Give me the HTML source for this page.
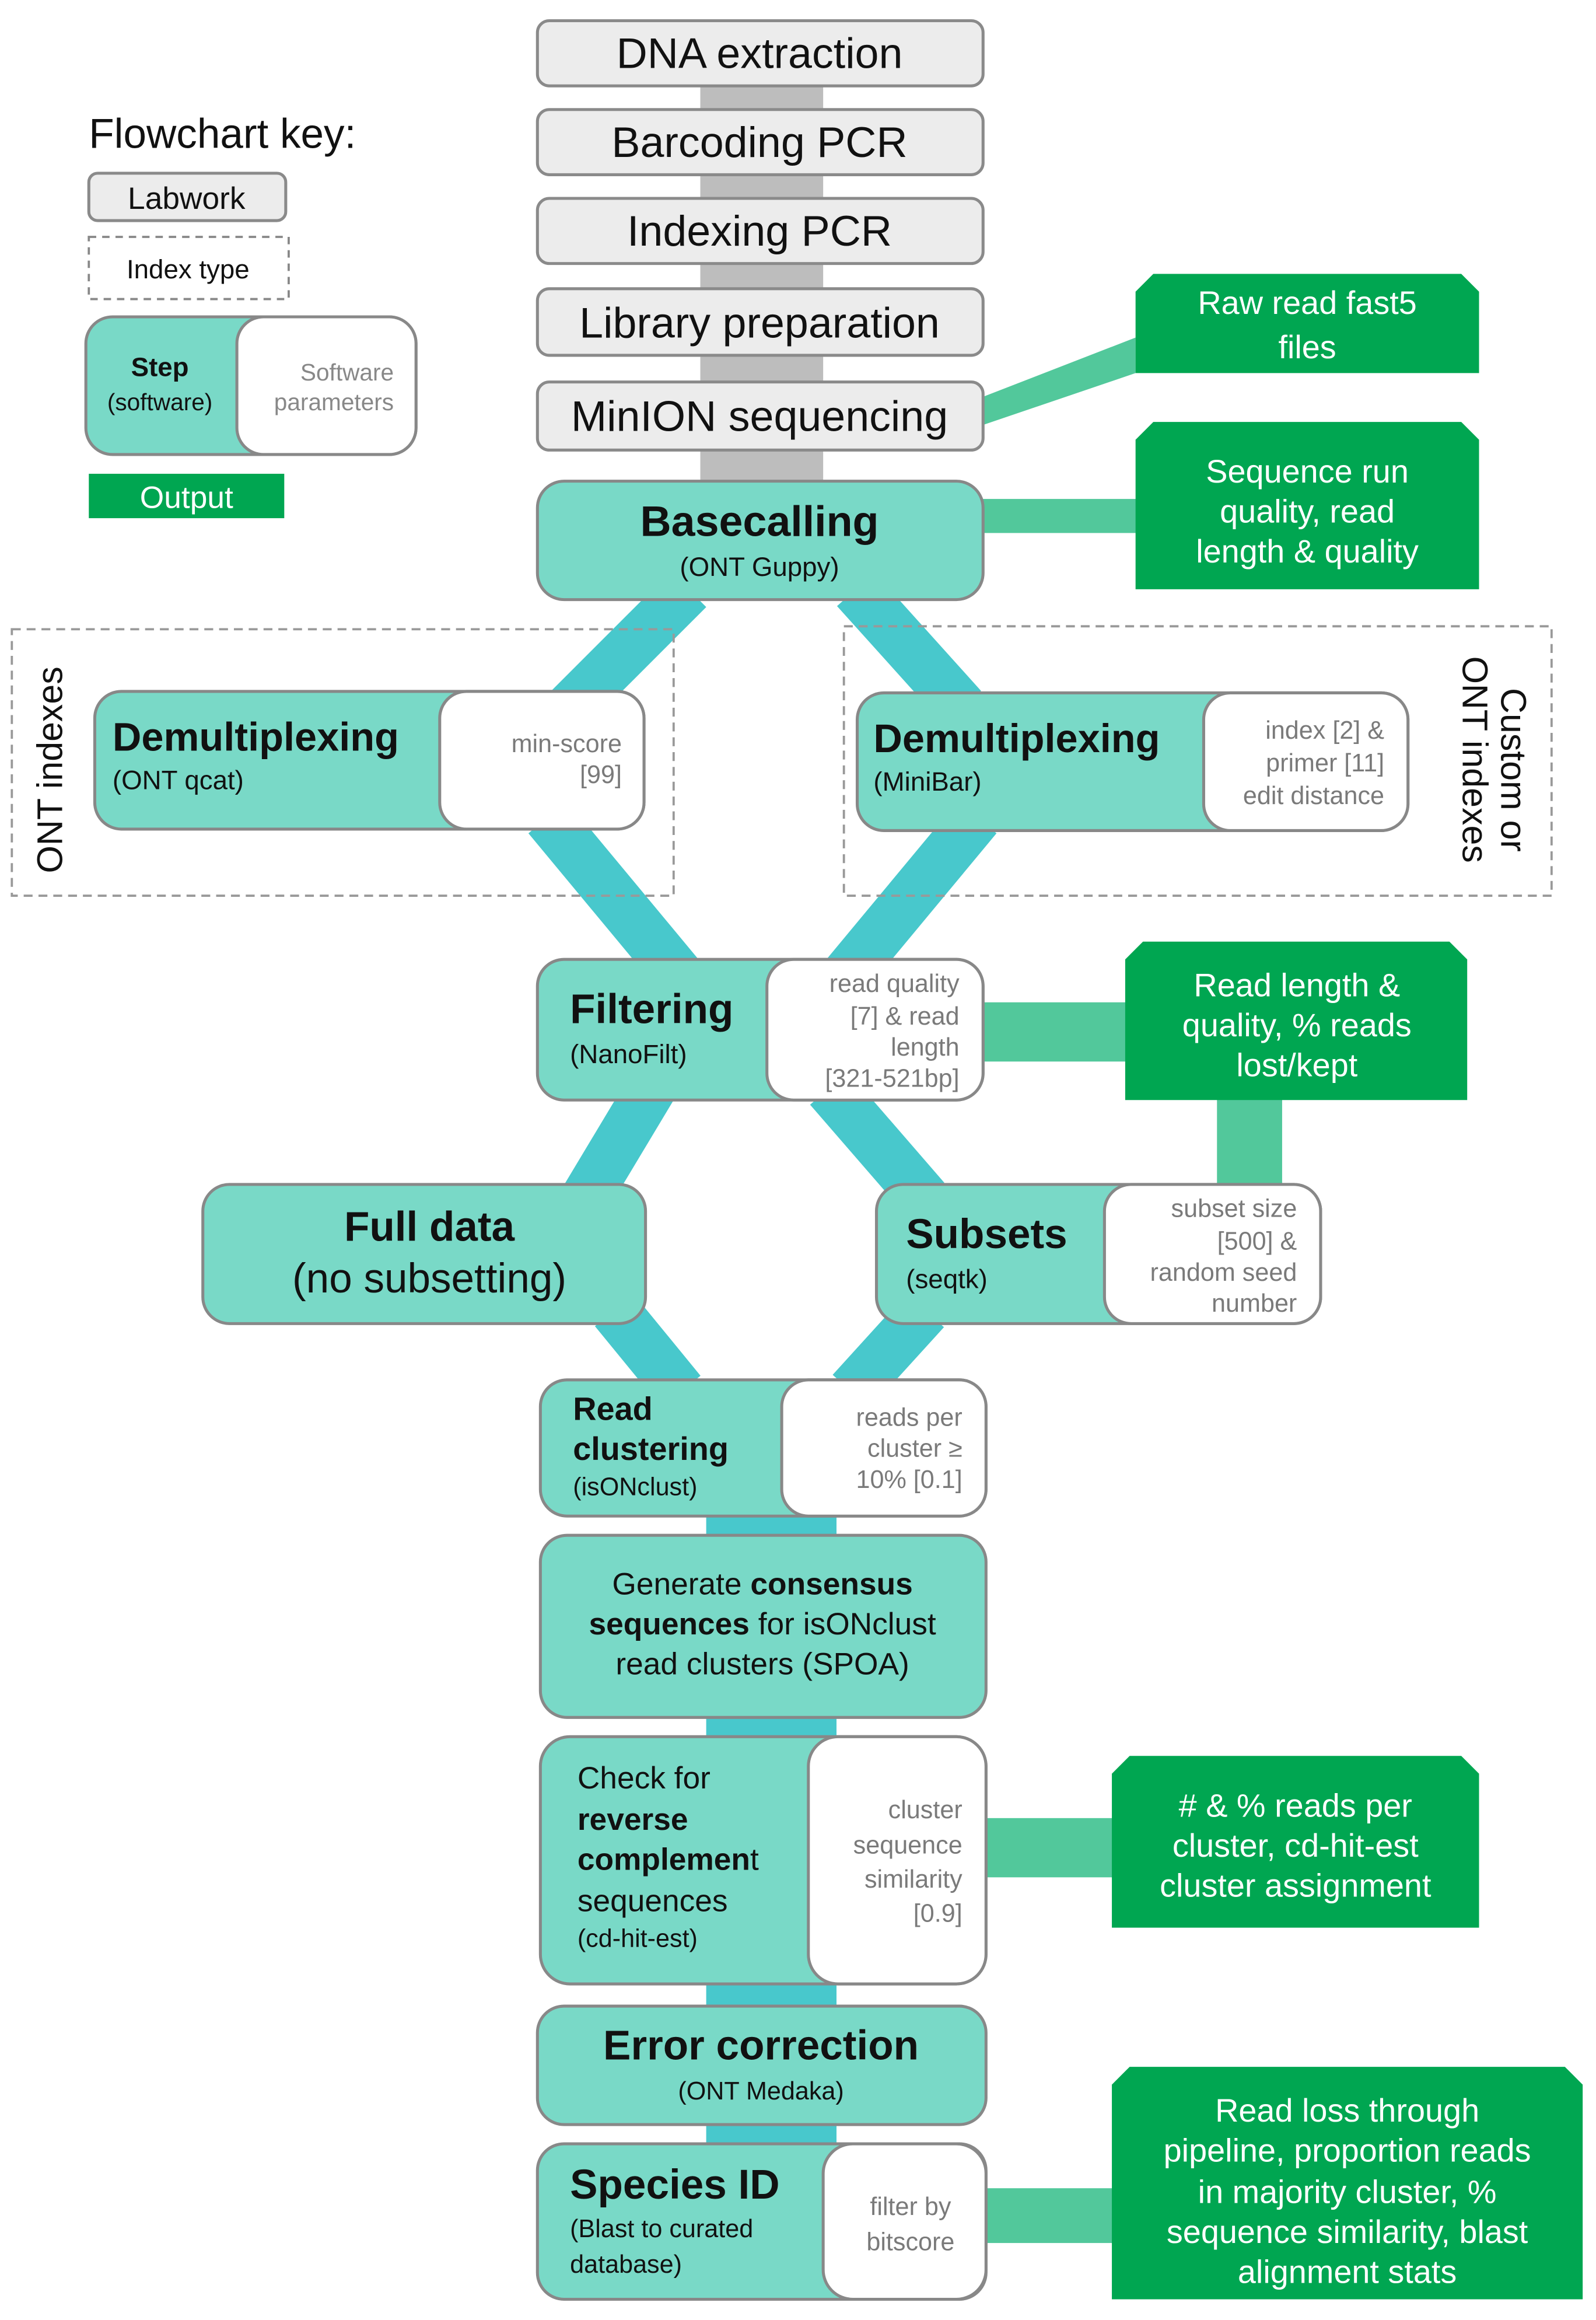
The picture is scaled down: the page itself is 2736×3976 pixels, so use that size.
<!DOCTYPE html>
<html><head><meta charset="utf-8"><style>
html,body{margin:0;padding:0;background:#fff}
svg{display:block}
text{font-family:"Liberation Sans",sans-serif}
.b{font-weight:bold;fill:#111}
.p{fill:#7a7a7a;font-size:17px}
.w{fill:#fff}
</style></head><body>
<svg width="2736" height="3976" viewBox="0 0 1078 1567" preserveAspectRatio="none" xmlns="http://www.w3.org/2000/svg">
<rect width="1078" height="1567" fill="#fff"/>
<rect x="473" y="40" width="83" height="290" fill="#bdbdbd"/>
<g stroke="#48c8cc" stroke-width="34" fill="none">
<line x1="465" y1="398" x2="385" y2="478"/>
<line x1="578" y1="398" x2="650" y2="478"/>
<line x1="370" y1="552" x2="458" y2="658"/>
<line x1="660" y1="552" x2="572" y2="658"/>
<line x1="440" y1="735" x2="395" y2="810"/>
<line x1="560" y1="735" x2="625" y2="810"/>
<line x1="415" y1="885" x2="460" y2="940"/>
<line x1="625" y1="885" x2="575" y2="940"/>
</g>
<rect x="477" y="1020" width="88" height="430" fill="#48c8cc"/>
<g fill="#52c89b">
<polygon points="664,268 767,228 767,252 664,287"/>
<rect x="664" y="337" width="105" height="23"/>
<rect x="664" y="677" width="98" height="40"/>
<rect x="822" y="740" width="44" height="62"/>
<rect x="666" y="1228" width="87" height="40"/>
<rect x="666" y="1478" width="87" height="37"/>
</g>
<rect x="8" y="425" width="447" height="180" fill="none" stroke="#999" stroke-width="1.5" stroke-dasharray="6,4"/>
<rect x="570" y="423" width="478" height="182" fill="none" stroke="#999" stroke-width="1.5" stroke-dasharray="6,4"/>
<text transform="translate(42,520) rotate(-90)" text-anchor="middle" font-size="24" fill="#111">ONT indexes</text>
<text transform="translate(1014,520) rotate(90)" text-anchor="middle" font-size="24" fill="#111">Custom or</text>
<text transform="translate(988,513) rotate(90)" text-anchor="middle" font-size="24" fill="#111">ONT indexes</text>
<g fill="#ececec" stroke="#8a8a8a" stroke-width="2">
<rect x="363" y="14" width="301" height="44" rx="8"/>
<rect x="363" y="74" width="301" height="44" rx="8"/>
<rect x="363" y="134" width="301" height="44" rx="8"/>
<rect x="363" y="195" width="301" height="45" rx="8"/>
<rect x="363" y="258" width="301" height="46" rx="8"/>
</g>
<g font-size="29" fill="#111" text-anchor="middle">
<text x="513" y="46">DNA extraction</text>
<text x="513" y="106">Barcoding PCR</text>
<text x="513" y="166">Indexing PCR</text>
<text x="513" y="228">Library preparation</text>
<text x="513" y="291">MinION sequencing</text>
</g>
<text x="60" y="100" font-size="28" fill="#111">Flowchart key:</text>
<rect x="60" y="117" width="133" height="32" rx="6" fill="#ececec" stroke="#8a8a8a" stroke-width="2"/>
<text x="126" y="141" font-size="21" text-anchor="middle" fill="#111">Labwork</text>
<rect x="60" y="160" width="135" height="42" fill="none" stroke="#888" stroke-width="1.5" stroke-dasharray="5,4"/>
<text x="127" y="188" font-size="18" text-anchor="middle" fill="#111">Index type</text>
<rect x="58" y="214" width="223" height="93" rx="18" fill="#79d9c7" stroke="#888" stroke-width="2"/>
<rect x="160" y="214" width="121" height="93" rx="18" fill="#fff" stroke="#888" stroke-width="2"/>
<text x="108" y="254" font-size="18" text-anchor="middle" class="b">Step</text>
<text x="108" y="277" font-size="16" text-anchor="middle" fill="#111">(software)</text>
<text x="266" y="257" font-size="16" text-anchor="end" fill="#888">Software</text>
<text x="266" y="277" font-size="16" text-anchor="end" fill="#888">parameters</text>
<rect x="60" y="320" width="132" height="30" fill="#00a651"/>
<text x="126" y="343" font-size="21" text-anchor="middle" class="w">Output</text>
<g stroke="#888" stroke-width="2">
<rect x="363" y="325" width="301" height="80" rx="18" fill="#79d9c7"/>
<rect x="64" y="467" width="371" height="93" rx="18" fill="#79d9c7"/>
<rect x="297" y="467" width="138" height="93" rx="18" fill="#fff"/>
<rect x="579" y="468" width="372" height="93" rx="18" fill="#79d9c7"/>
<rect x="813" y="468" width="138" height="93" rx="18" fill="#fff"/>
<rect x="363" y="648" width="301" height="95" rx="18" fill="#79d9c7"/>
<rect x="518" y="648" width="146" height="95" rx="18" fill="#fff"/>
<rect x="137" y="800" width="299" height="94" rx="18" fill="#79d9c7"/>
<rect x="592" y="800" width="300" height="94" rx="18" fill="#79d9c7"/>
<rect x="746" y="800" width="146" height="94" rx="18" fill="#fff"/>
<rect x="365" y="932" width="301" height="92" rx="18" fill="#79d9c7"/>
<rect x="528" y="932" width="138" height="92" rx="18" fill="#fff"/>
<rect x="365" y="1037" width="301" height="123" rx="18" fill="#79d9c7"/>
<rect x="365" y="1173" width="301" height="167" rx="20" fill="#79d9c7"/>
<rect x="546" y="1173" width="120" height="167" rx="20" fill="#fff"/>
<rect x="363" y="1355" width="303" height="80" rx="18" fill="#79d9c7"/>
<rect x="363" y="1448" width="303" height="105" rx="18" fill="#79d9c7"/>
<rect x="556" y="1448" width="110" height="105" rx="20" fill="#fff"/>
</g>
<text x="513" y="362" font-size="29" text-anchor="middle" class="b">Basecalling</text>
<text x="513" y="389" font-size="18" text-anchor="middle" fill="#111">(ONT Guppy)</text>
<text x="76" y="507" font-size="27" class="b">Demultiplexing</text>
<text x="76" y="533" font-size="18" fill="#111">(ONT qcat)</text>
<text x="420" y="508" class="p" text-anchor="end">min-score</text>
<text x="420" y="529" class="p" text-anchor="end">[99]</text>
<text x="590" y="508" font-size="27" class="b">Demultiplexing</text>
<text x="590" y="534" font-size="18" fill="#111">(MiniBar)</text>
<text x="935" y="499" class="p" text-anchor="end">index [2] &amp;</text>
<text x="935" y="521" class="p" text-anchor="end">primer [11]</text>
<text x="935" y="543" class="p" text-anchor="end">edit distance</text>
<text x="385" y="691" font-size="28" class="b">Filtering</text>
<text x="385" y="718" font-size="18" fill="#111">(NanoFilt)</text>
<g class="p" text-anchor="end">
<text x="648" y="670">read quality</text>
<text x="648" y="692">[7] &amp; read</text>
<text x="648" y="713">length</text>
<text x="648" y="734">[321-521bp]</text>
</g>
<text x="290" y="838" font-size="28" text-anchor="middle" class="b">Full data</text>
<text x="290" y="873" font-size="28" text-anchor="middle" fill="#111">(no subsetting)</text>
<text x="612" y="843" font-size="28" class="b">Subsets</text>
<text x="612" y="870" font-size="18" fill="#111">(seqtk)</text>
<g class="p" text-anchor="end">
<text x="876" y="822">subset size</text>
<text x="876" y="844">[500] &amp;</text>
<text x="876" y="865">random seed</text>
<text x="876" y="886">number</text>
</g>
<text x="387" y="959" font-size="22" class="b">Read</text>
<text x="387" y="986" font-size="22" class="b">clustering</text>
<text x="387" y="1010" font-size="17" fill="#111">(isONclust)</text>
<g class="p" text-anchor="end">
<text x="650" y="963">reads per</text>
<text x="650" y="984">cluster ≥</text>
<text x="650" y="1005">10% [0.1]</text>
</g>
<g font-size="21" text-anchor="middle" fill="#111">
<text x="515" y="1077">Generate <tspan font-weight="bold">consensus</tspan></text>
<text x="515" y="1104"><tspan font-weight="bold">sequences</tspan> for isONclust</text>
<text x="515" y="1131">read clusters (SPOA)</text>
</g>
<g font-size="21" fill="#111">
<text x="390" y="1208">Check for</text>
<text x="390" y="1236" font-weight="bold">reverse</text>
<text x="390" y="1263"><tspan font-weight="bold">complemen</tspan>t</text>
<text x="390" y="1291">sequences</text>
<text x="390" y="1315" font-size="17">(cd-hit-est)</text>
</g>
<g class="p" text-anchor="end" font-size="18">
<text x="650" y="1228">cluster</text>
<text x="650" y="1252">sequence</text>
<text x="650" y="1275">similarity</text>
<text x="650" y="1298">[0.9]</text>
</g>
<text x="514" y="1391" font-size="28" text-anchor="middle" class="b">Error correction</text>
<text x="514" y="1418" font-size="17" text-anchor="middle" fill="#111">(ONT Medaka)</text>
<text x="385" y="1485" font-size="28" class="b">Species ID</text>
<text x="385" y="1511" font-size="17" fill="#111">(Blast to curated</text>
<text x="385" y="1535" font-size="17" fill="#111">database)</text>
<text x="615" y="1496" class="p" text-anchor="middle" font-size="18">filter by</text>
<text x="615" y="1520" class="p" text-anchor="middle" font-size="18">bitscore</text>
<g fill="#00a651">
<polygon points="779,185 987,185 999,197 999,252 767,252 767,197"/>
<polygon points="779,285 987,285 999,297 999,398 767,398 767,297"/>
<polygon points="772,636 979,636 991,648 991,743 760,743 760,648"/>
<polygon points="763,1186 987,1186 999,1198 999,1302 751,1302 751,1198"/>
<polygon points="763,1396 1057,1396 1069,1408 1069,1553 751,1553 751,1408"/>
</g>
<g font-size="22" text-anchor="middle" class="w">
<text x="883" y="212">Raw read fast5</text>
<text x="883" y="242">files</text>
<text x="883" y="326">Sequence run</text>
<text x="883" y="353">quality, read</text>
<text x="883" y="380">length &amp; quality</text>
<text x="876" y="673">Read length &amp;</text>
<text x="876" y="700">quality, % reads</text>
<text x="876" y="727">lost/kept</text>
<text x="875" y="1227"># &amp; % reads per</text>
<text x="875" y="1254">cluster, cd-hit-est</text>
<text x="875" y="1281">cluster assignment</text>
<text x="910" y="1433">Read loss through</text>
<text x="910" y="1460">pipeline, proportion reads</text>
<text x="910" y="1488">in majority cluster,  %</text>
<text x="910" y="1515">sequence similarity, blast</text>
<text x="910" y="1542">alignment stats</text>
</g>
</svg>
</body></html>
